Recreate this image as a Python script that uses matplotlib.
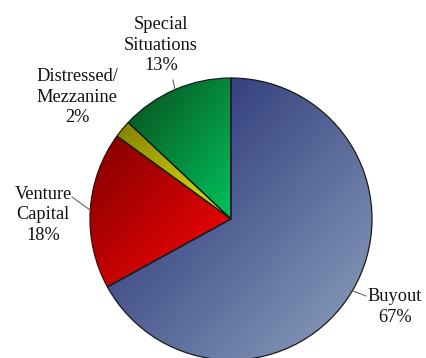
import matplotlib
matplotlib.use('Agg')
import matplotlib.pyplot as plt
import numpy as np

# pie data
labels = ['Buyout', 'Venture\nCapital', 'Distressed/\nMezzanine', 'Special\nSituations']
shares = [67, 18, 2, 13]
# (dark, light) gradient ends for each slice
grad_colors = [
    ((0.10, 0.14, 0.42), (0.56, 0.64, 0.75)),
    ((0.50, 0.00, 0.00), (1.00, 0.02, 0.02)),
    ((0.50, 0.50, 0.00), (0.92, 0.92, 0.05)),
    ((0.04, 0.30, 0.11), (0.00, 0.76, 0.36)),
]

plt.rcParams['font.family'] = ['Liberation Serif', 'DejaVu Serif']

fig = plt.figure(figsize=(4.27, 3.58), dpi=100)
ax = fig.add_axes([0, 0, 1, 1])

cx, cy, R = 231, 139, 141
wedges, _ = ax.pie(shares, startangle=90, counterclock=False, center=(cx, cy),
                   radius=R, colors=['none'] * 4,
                   wedgeprops=dict(edgecolor='#1a1a1a', linewidth=0.9))

# fill each wedge with a diagonal gradient (dark top-left -> light bottom-right)
n = 200
u, v = np.meshgrid(np.linspace(0, 1, n), np.linspace(0, 1, n))
t = (u + (1 - v)) / 2
for w, (c0, c1) in zip(wedges, grad_colors):
    th = np.radians(np.linspace(w.theta1, w.theta2, 100))
    xs = np.concatenate([[cx], cx + R * np.cos(th)])
    ys = np.concatenate([[cy], cy + R * np.sin(th)])
    img = np.array(c0)[None, None, :] * (1 - t[..., None]) + np.array(c1)[None, None, :] * t[..., None]
    im = ax.imshow(img, extent=[xs.min(), xs.max(), ys.min(), ys.max()], origin='lower',
                   interpolation='bilinear', zorder=0.5)
    im.set_clip_path(w)
    w.set_zorder(1)

# labels and leader lines
pct = ['%d%%' % s for s in shares]
text_pos = [(395, 51), (43, 143), (77, 261), (161, 313)]
line_end = [(366, 62), (72, 161), None, (173, 278)]
for w, lab, p, pos, end in zip(wedges, labels, pct, text_pos, line_end):
    mid = np.radians((w.theta1 + w.theta2) / 2)
    ex, ey = cx + R * np.cos(mid), cy + R * np.sin(mid)
    ax.text(pos[0], pos[1], lab + '\n' + p, ha='center', va='center',
            fontsize=13.2, linespacing=1.28, color='#111111')
    if end is not None:
        ax.plot([ex, end[0]], [ey, end[1]], color='#555555', lw=0.7, zorder=2)

ax.set_xlim(0, 427)
ax.set_ylim(0, 358)
ax.set_aspect('equal')
ax.axis('off')

plt.savefig('out.png', dpi=100)
